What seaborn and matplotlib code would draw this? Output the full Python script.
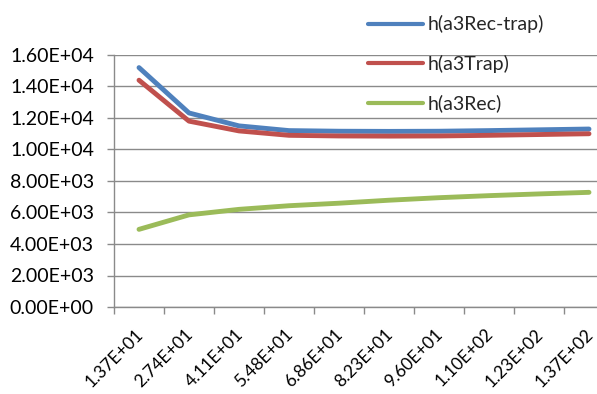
import matplotlib
matplotlib.use("Agg")
import matplotlib.pyplot as plt
import matplotlib.transforms as mtransforms
from matplotlib.ticker import FixedLocator, FuncFormatter
import seaborn as sns
import pandas as pd

# Step sizes along the x axis (category labels)
steps = ["1.37E+01", "2.74E+01", "4.11E+01", "5.48E+01", "6.86E+01",
         "8.23E+01", "9.60E+01", "1.10E+02", "1.23E+02", "1.37E+02"]

# Series values
h_rec_trap = [15200, 12320, 11500, 11200, 11160, 11150, 11160, 11200, 11250, 11300]
h_trap = [14400, 11800, 11180, 10900, 10860, 10850, 10860, 10900, 10950, 11000]
h_rec = [4930, 5850, 6200, 6430, 6590, 6780, 6940, 7070, 7180, 7280]

series_names = ["h(a3Rec-trap)", "h(a3Trap)", "h(a3Rec)"]
colors = ["#4F81BD", "#C0504D", "#9BBB59"]
y_ticks = [0, 2000, 4000, 6000, 8000, 10000, 12000, 14000, 16000]

df = pd.DataFrame({
    "step": steps * 3,
    "value": h_rec_trap + h_trap + h_rec,
    "series": [series_names[0]] * 10 + [series_names[1]] * 10 + [series_names[2]] * 10,
})

sns.set_style("white")
plt.rcParams["font.family"] = ["Lato", "DejaVu Sans"]
FS = 14
FS_X = 12.5
GRID = "#8a8a8a"

fig = plt.figure(figsize=(5.97, 3.94), dpi=100)
ax = fig.add_axes([114 / 597, 1 - 307 / 394, 500 / 597, 252 / 394])

sns.lineplot(data=df, x="step", y="value", hue="series", hue_order=series_names,
             palette=colors, linewidth=3.5, sort=False, ax=ax, legend=True)

ax.set_xlim(-0.5, len(steps) - 0.5)
ax.set_ylim(0, 16000)
ax.yaxis.set_major_locator(FixedLocator(y_ticks))
ax.yaxis.set_major_formatter(FuncFormatter(lambda v, _: f"{v:.2E}"))
ax.grid(axis="y", color=GRID, linewidth=1.0)
ax.set_axisbelow(True)

# category labels at the centres, tick marks at the category boundaries
ax.set_xticks(range(len(steps)))
ax.set_xticklabels(steps, rotation=45, ha="right", va="top", rotation_mode="anchor")
ax.set_xticks([i - 0.5 for i in range(len(steps) + 1)], minor=True)
ax.tick_params(axis="x", which="major", length=0, pad=13.5, labelsize=FS_X, colors="black")
ax.tick_params(axis="x", which="minor", length=5, width=1, color=GRID, direction="out", bottom=True)
ax.tick_params(axis="y", length=5, width=1, color=GRID, direction="out", left=True,
               labelsize=FS, labelcolor="black", pad=9.4)
shift = mtransforms.ScaledTranslation(-4 / 100, 0, fig.dpi_scale_trans)
for lab in ax.get_xticklabels():
    lab.set_transform(lab.get_transform() + shift)

for side in ["top", "right"]:
    ax.spines[side].set_visible(False)
for side in ["left", "bottom"]:
    ax.spines[side].set_color(GRID)
    ax.spines[side].set_linewidth(1.0)

ax.set_xlabel("")
ax.set_ylabel("")

handles, labels = ax.get_legend_handles_labels()
for h in handles:
    h.set_linewidth(3.0)
ax.legend(handles, labels, loc="upper left", bbox_to_anchor=(368 / 597, 1 - 15.3 / 394),
          bbox_transform=fig.transFigure, frameon=False, fontsize=FS,
          handlelength=2.83, handletextpad=0.26, labelspacing=1.11, borderpad=0, borderaxespad=0)

fig.savefig("out.png", dpi=100, facecolor="white")
